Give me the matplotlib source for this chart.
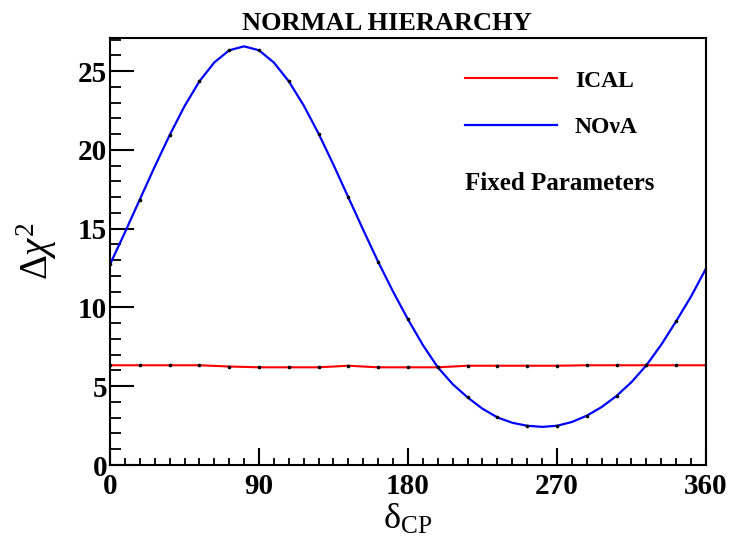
import matplotlib
matplotlib.use("Agg")
import matplotlib.pyplot as plt
from matplotlib.ticker import MultipleLocator

plt.rcParams['font.family'] = ['Liberation Serif', 'DejaVu Serif']
plt.rcParams['font.weight'] = 'bold'
plt.rcParams['mathtext.fontset'] = 'custom'
plt.rcParams['mathtext.rm'] = 'Liberation Serif:normal'
plt.rcParams['mathtext.it'] = 'Liberation Serif:italic:normal'
plt.rcParams['mathtext.bf'] = 'Liberation Serif:bold'

# delta_CP grid (degrees) and values
delta_cp = [0, 9, 18, 27, 36, 45, 54, 63, 72, 81, 90, 99, 108, 117, 126, 135,
            144, 153, 162, 171, 180, 189, 198, 207, 216, 225, 234, 243, 252,
            261, 270, 279, 288, 297, 306, 315, 324, 333, 342, 351, 360]
nova = [12.73, 14.76, 16.85, 18.93, 20.93, 22.77, 24.35, 25.55, 26.32, 26.57,
        26.32, 25.54, 24.35, 22.82, 21.03, 19.05, 16.98, 14.91, 12.89, 11.0,
        9.24, 7.61, 6.2, 5.13, 4.29, 3.57, 3.02, 2.68, 2.49, 2.42, 2.49, 2.73,
        3.13, 3.68, 4.39, 5.26, 6.33, 7.64, 9.13, 10.70, 12.47]

delta_cp_ical = [0, 18, 36, 54, 72, 90, 108, 126, 144, 162, 180,
                 198, 216, 234, 252, 270, 288, 306, 324, 342, 360]
ical = [6.33, 6.33, 6.33, 6.33, 6.25, 6.2, 6.2, 6.2, 6.3, 6.2, 6.2,
        6.2, 6.3, 6.3, 6.3, 6.3, 6.33, 6.33, 6.33, 6.33, 6.33]

xticks = [0, 90, 180, 270, 360]
yticks = [0, 5, 10, 15, 20, 25]

fig = plt.figure(figsize=(7.3, 5.41), dpi=100)
ax = fig.add_axes([110/730, 1-465/541, 596/730, 427/541])

ax.plot(delta_cp_ical, ical, color='#ff0000', lw=1.5, label='ICAL')
ax.plot(delta_cp, nova, color='#0000ff', lw=1.6, label='NO\u03bdA')
# small black markers at the computed points
ax.plot(delta_cp_ical, ical, ls='none', marker='o', ms=1.6, mfc='black', mec='black')
ax.plot(delta_cp[::2], nova[::2], ls='none', marker='o', ms=1.6, mfc='black', mec='black')

ax.set_xlim(0, 360)
ax.set_ylim(0, 27.1)
ax.set_xticks(xticks)
ax.set_yticks(yticks)
ax.xaxis.set_minor_locator(MultipleLocator(9))
ax.yaxis.set_minor_locator(MultipleLocator(1))
ax.tick_params(axis='both', which='major', direction='in', width=1.5,
               labelsize=21, top=False, right=False)
ax.tick_params(axis='y', which='major', length=17, pad=2)
ax.tick_params(axis='x', which='major', length=12, pad=6)
ax.tick_params(axis='y', which='minor', direction='in', length=8, width=1.3, right=False)
ax.tick_params(axis='x', which='minor', direction='in', length=5, width=1.3, top=False)
for lab in ax.get_xticklabels() + ax.get_yticklabels():
    lab.set_fontweight('bold')
for s in ax.spines.values():
    s.set_linewidth(1.5)

ax.set_xlabel(r'$\mathrm{\delta_{CP}}$', fontsize=26, labelpad=2)
ax.set_ylabel(r'$\mathrm{\Delta}\chi^{2}$', fontsize=28, labelpad=14)

leg = ax.legend(loc='upper left', bbox_to_anchor=(355/596, 1-32/427),
                frameon=False, borderpad=0, borderaxespad=0,
                handlelength=3.9, handletextpad=0.75, labelspacing=1.07,
                prop={'family': 'Liberation Serif', 'weight': 'bold', 'size': 17})

ax.text(355/596, (465-184)/427, 'Fixed Parameters', transform=ax.transAxes,
        fontsize=18, fontweight='bold', va='center', ha='left')

fig.text(386.5/730, 1-24/541, 'NORMAL HIERARCHY', fontsize=19, fontweight='bold',
         ha='center', va='center')

fig.savefig('out.png', dpi=100)
